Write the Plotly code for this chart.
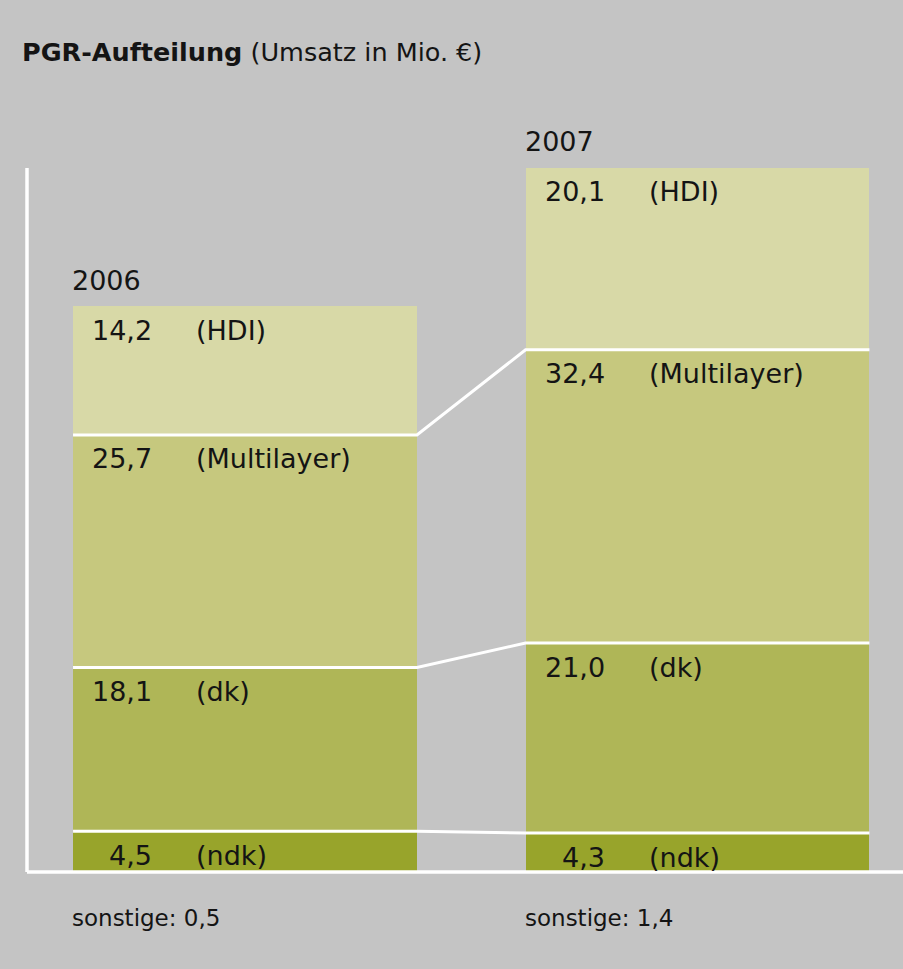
import plotly.graph_objects as go

# ---- data ----
years = ["2006", "2007"]
segment_names = ["ndk", "dk", "Multilayer", "HDI"]          # bottom -> top
ndk = [4.5, 4.3]
dk = [18.1, 21.0]
multilayer = [25.7, 32.4]
hdi = [14.2, 20.1]
sonstige = [0.5, 1.4]

series = [ndk, dk, multilayer, hdi]
colors = ["#98a42b", "#afb657", "#c6c87e", "#d8d9a7"]

BG = "#c4c4c4"
TXT = "#141414"
FONT = "DejaVu Sans"
BAR_W = 0.76

W, H = 903, 969
PX_PER_X = 452.5
PX_PER_Y = 9.05
x0_px, base_px = 245, 872
x_range = [-x0_px / PX_PER_X, (W - x0_px) / PX_PER_X]
y_range = [-(H - base_px) / PX_PER_Y, base_px / PX_PER_Y]

xs = list(range(len(years)))


def de(v):
    return f"{v:.1f}".replace(".", ",")


fig = go.Figure()

for name, vals, col in zip(segment_names, series, colors):
    fig.add_trace(go.Bar(
        x=xs, y=vals, name=name, width=BAR_W,
        marker=dict(color=col, line=dict(width=0)),
        hoverinfo="skip", showlegend=False,
    ))

# cumulative boundaries
cum = []
run = [0.0] * len(years)
for vals in series:
    run = [r + v for r, v in zip(run, vals)]
    cum.append(list(run))

# white separators + connecting lines (between segments, not at top)
for k in range(len(series) - 1):
    lx, ly = [], []
    for i in xs:
        lx += [i - BAR_W / 2, i + BAR_W / 2]
        ly += [cum[k][i], cum[k][i]]
    fig.add_trace(go.Scatter(
        x=lx, y=ly, mode="lines",
        line=dict(color="white", width=3),
        hoverinfo="skip", showlegend=False,
    ))

annotations = []
for i in xs:
    left = i - BAR_W / 2
    for k, (name, vals) in enumerate(zip(segment_names, series)):
        top = cum[k][i]
        annotations.append(dict(
            x=left, y=top, xref="x", yref="y", text=de(vals[i]),
            xanchor="right", yanchor="middle", xshift=81, yshift=-24,
            showarrow=False, font=dict(family=FONT, size=27, color=TXT)))
        annotations.append(dict(
            x=left, y=top, xref="x", yref="y", text=f"({name})",
            xanchor="left", yanchor="middle", xshift=121, yshift=-24,
            showarrow=False, font=dict(family=FONT, size=27, color=TXT)))
    # year label
    annotations.append(dict(
        x=left, y=cum[-1][i], xref="x", yref="y", text=years[i],
        xanchor="left", yanchor="middle", xshift=-3, yshift=26,
        showarrow=False, font=dict(family=FONT, size=27, color=TXT)))
    # sonstige
    annotations.append(dict(
        x=left, y=0, xref="x", yref="y", text=f"sonstige: {de(sonstige[i])}",
        xanchor="left", yanchor="middle", xshift=-3, yshift=-46,
        showarrow=False, font=dict(family=FONT, size=23, color=TXT)))

annotations.append(dict(
    x=20 / W, y=1 - 52 / H, xref="paper", yref="paper",
    text="<b>PGR-Aufteilung</b> (Umsatz in Mio. €)",
    xanchor="left", yanchor="middle", showarrow=False,
    font=dict(family=FONT, size=25.5, color=TXT)))

axis_x = x_range[0] + 27 / PX_PER_X
shapes = [
    dict(type="line", xref="x", yref="y", x0=axis_x, x1=axis_x,
         y0=0, y1=max(cum[-1]), line=dict(color="white", width=3.5), layer="above"),
    dict(type="line", xref="x", yref="y", x0=axis_x, x1=x_range[1],
         y0=0, y1=0, line=dict(color="white", width=3.5), layer="above"),
]

fig.update_layout(
    width=W, height=H,
    margin=dict(l=0, r=0, t=0, b=0),
    paper_bgcolor=BG, plot_bgcolor=BG,
    barmode="stack", bargap=0,
    xaxis=dict(range=x_range, visible=False, fixedrange=True),
    yaxis=dict(range=y_range, visible=False, fixedrange=True),
    annotations=annotations, shapes=shapes,
    showlegend=False,
)

fig.write_html(
    "out.html",
    config={"displayModeBar": False},
    post_script="document.body.style.margin='0';document.body.style.background='#c4c4c4';",
)
